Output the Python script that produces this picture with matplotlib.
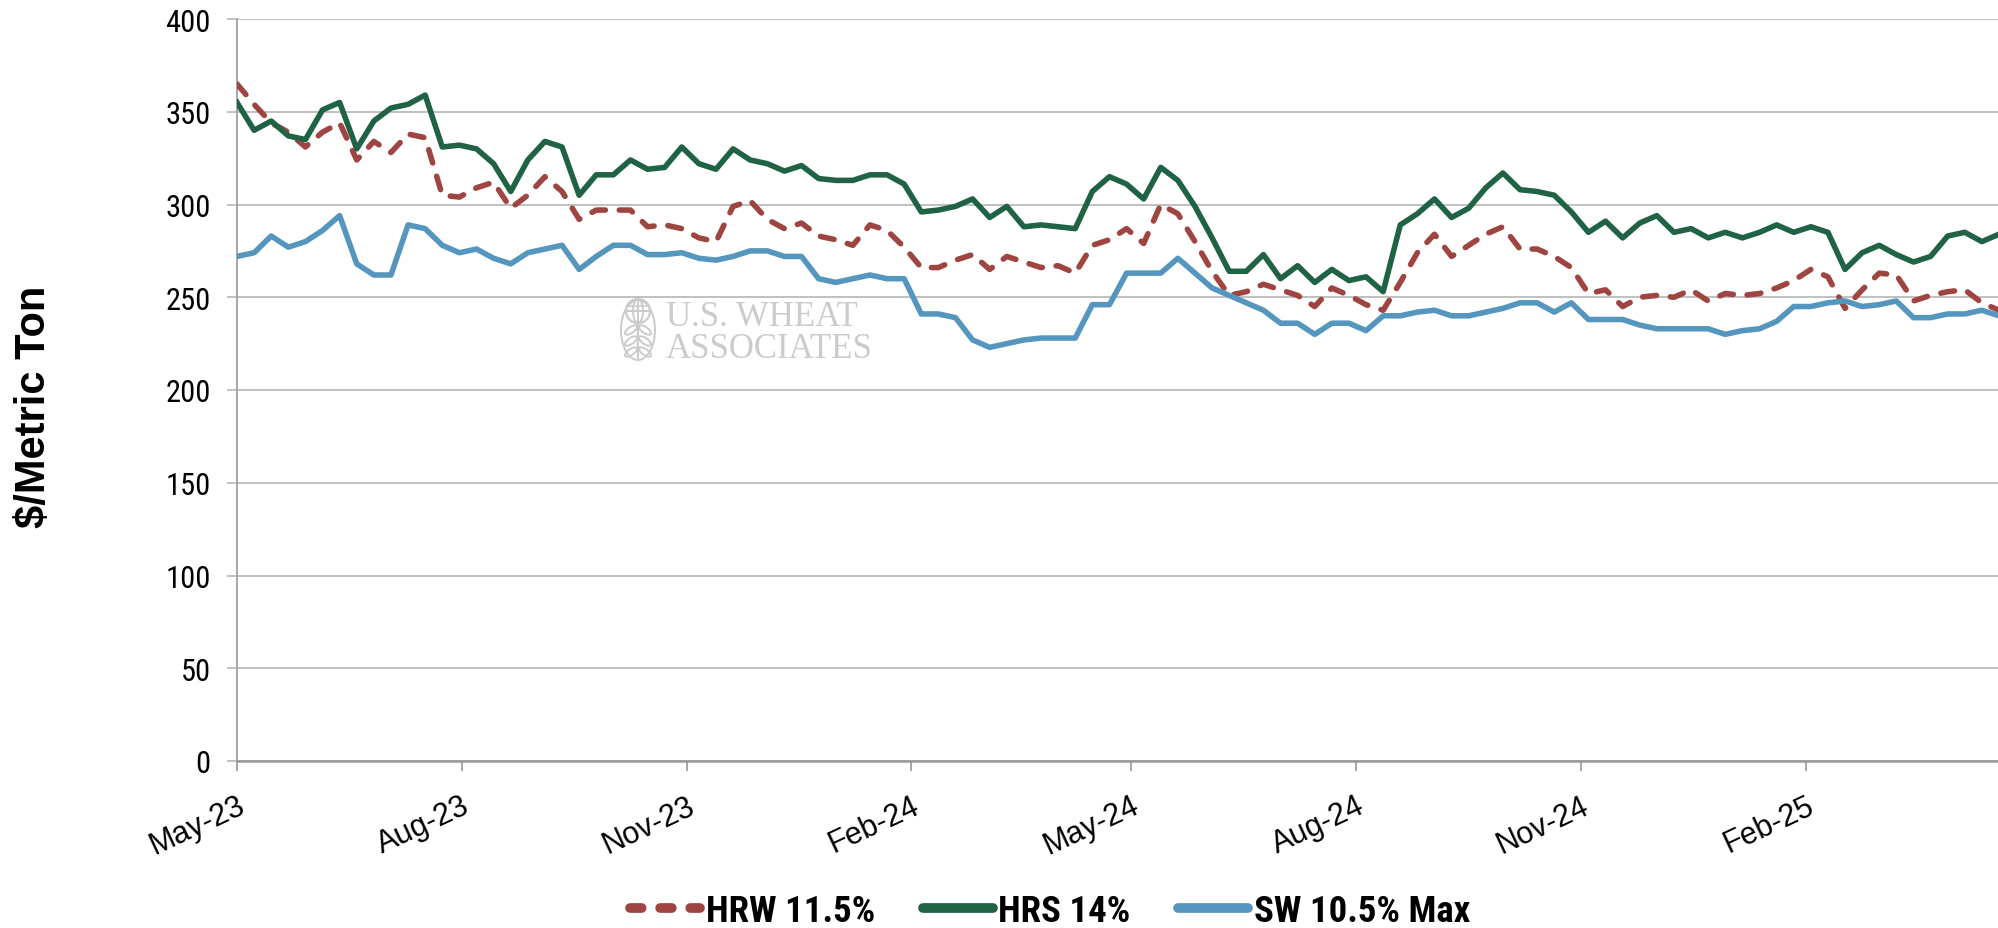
import matplotlib
matplotlib.use('Agg')
import matplotlib.pyplot as plt
import matplotlib.dates as mdates
from matplotlib import font_manager as fm
from matplotlib.font_manager import FontProperties
from matplotlib.lines import Line2D
from matplotlib.patches import Circle, Ellipse
import pandas as pd

# ---------------- data ----------------
start_date = '2023-05-01'   # weekly observations
n_weeks = 104

hrw = [365, 354, 344, 339, 331, 339, 344, 324, 334, 328, 338, 336, 305, 304, 309, 312, 298, 305, 315, 307,
       292, 297, 297, 297, 288, 289, 287,
       282, 280, 299, 302, 292, 287, 290, 283, 281, 278, 289, 286, 277, 266, 266, 270, 273, 265, 272, 269,
       266, 267, 263, 278, 281, 287,
       279, 300, 295, 280, 264, 251, 253, 257, 254, 251, 245, 255, 251, 246, 243, 258, 274, 284, 272, 278,
       284, 288, 276, 276, 272, 266,
       252, 254, 245, 250, 251, 250, 254, 248, 252, 251, 252, 255, 259, 265, 261, 244, 254, 263, 262, 248,
       251, 253, 254, 247, 243]

hrs = [355, 340, 345, 337, 335, 351, 355, 330, 345, 352, 354, 359, 331, 332, 330, 322, 307, 324, 334, 331,
       305, 316, 316, 324, 319, 320, 331,
       322, 319, 330, 324, 322, 318, 321, 314, 313, 313, 316, 316, 311, 296, 297, 299, 303, 293, 299, 288,
       289, 288, 287, 307, 315, 311,
       303, 320, 313, 299, 282, 264, 264, 273, 260, 267, 258, 265, 259, 261, 253, 289, 295, 303, 293, 298,
       309, 317, 308, 307, 305, 296,
       285, 291, 282, 290, 294, 285, 287, 282, 285, 282, 285, 289, 285, 288, 285, 265, 274, 278, 273, 269,
       272, 283, 285, 280, 284]

sw = [272, 274, 283, 277, 280, 286, 294, 268, 262, 262, 289, 287, 278, 274, 276, 271, 268, 274, 276, 278,
      265, 272, 278, 278, 273, 273, 274,
      271, 270, 272, 275, 275, 272, 272, 260, 258, 260, 262, 260, 260, 241, 241, 239, 227, 223, 225, 227,
      228, 228, 228, 246, 246, 263,
      263, 263, 271, 263, 255, 251, 247, 243, 236, 236, 230, 236, 236, 232, 240, 240, 242, 243, 240, 240,
      242, 244, 247, 247, 242, 247,
      238, 238, 238, 235, 233, 233, 233, 233, 230, 232, 233, 237, 245, 245, 247, 248, 245, 246, 248, 239,
      239, 241, 241, 243, 240]

series_labels = ['HRW 11.5%', 'HRS 14%', 'SW 10.5% Max']
y_ticks = [0, 50, 100, 150, 200, 250, 300, 350, 400]
y_label = '$/Metric Ton'
watermark = 'U.S. WHEAT\nASSOCIATES'

dates = pd.date_range(start_date, periods=n_weeks, freq='7D')

# ---------------- fonts ----------------
avail = {f.name for f in fm.fontManager.ttflist}
def pick(*names):
    for n in names:
        if n in avail:
            return n
    return 'DejaVu Sans'

NARROW = pick('Liberation Sans Narrow', 'Roboto Condensed', 'Arial Narrow', 'Liberation Sans')
SANS = pick('Liberation Sans', 'Arimo', 'Arial', 'DejaVu Sans')
SERIF = pick('Liberation Serif', 'Tinos', 'DejaVu Serif')

RED = '#9e4541'
GREEN = '#1f6244'
BLUE = '#5596be'
GRID = '#c0c0c0'
AXIS = '#a6a6a6'

W, H = 1999, 929
fig = plt.figure(figsize=(W / 100, H / 100), dpi=100)
ax = fig.add_axes([237 / W, 1 - 762 / H, 1 - 237 / W, (762 - 20) / H])

LW = 4.0
ax.plot(dates, hrw, color=RED, lw=LW, dashes=(2.5, 2.5), dash_capstyle='round',
        solid_joinstyle='round', zorder=3)
ax.plot(dates, hrs, color=GREEN, lw=LW, solid_joinstyle='round', zorder=3)
ax.plot(dates, sw, color=BLUE, lw=LW, solid_joinstyle='round', zorder=3)

ax.set_xlim(dates[0], dates[-1])
ax.set_ylim(0, 400)
ax.set_yticks(y_ticks)
ax.yaxis.grid(True, color=GRID, lw=1.4)
ax.set_axisbelow(True)

ax.xaxis.set_major_locator(mdates.MonthLocator(bymonth=[2, 5, 8, 11]))
ax.xaxis.set_major_formatter(mdates.DateFormatter('%b-%y'))

for s in ['top', 'right']:
    ax.spines[s].set_visible(False)
ax.spines['left'].set_color(AXIS)
ax.spines['left'].set_linewidth(1.4)
ax.spines['bottom'].set_color('#9a9a9a')
ax.spines['bottom'].set_linewidth(1.8)

ax.tick_params(axis='y', length=7, width=1.4, color=GRID, pad=12, labelsize=22)
ax.tick_params(axis='x', length=7, width=1.4, color=AXIS, pad=14, labelsize=22)
for lab in ax.get_yticklabels():
    lab.set_fontfamily(NARROW)
for lab in ax.get_xticklabels():
    lab.set_fontfamily(SANS)
    lab.set_rotation(25)
    lab.set_ha('right')
    lab.set_va('top')
    lab.set_rotation_mode('anchor')

fig.text(34 / W, 1 - 407 / H, y_label, rotation=90, ha='center', va='center',
         fontsize=30, fontweight='bold', family=SANS)

# legend
handles = [
    Line2D([], [], color=RED, lw=7, dashes=(1.2, 1.9), dash_capstyle='round'),
    Line2D([], [], color=GREEN, lw=7, solid_capstyle='round'),
    Line2D([], [], color=BLUE, lw=7, solid_capstyle='round'),
]
fig.legend(handles, series_labels, loc='center', bbox_to_anchor=(1050 / W, 1 - 912 / H),
           ncol=3, frameon=False,
           prop=FontProperties(family=NARROW, weight='bold', size=26.5),
           handlelength=1.9, handletextpad=0.15, columnspacing=1.3)

# watermark
WM = '#cbcbcb'
fig.text(666 / W, 1 - 358 / H, watermark, family=SERIF, size=25, color=WM,
         ha='left', va='baseline', multialignment='left', linespacing=0.95, zorder=1)
iax = fig.add_axes([620 / W, 1 - 362 / H, 36 / W, 64 / H])
iax.set_xlim(0, 36)
iax.set_ylim(0, 64)
iax.axis('off')
iax.patch.set_alpha(0)
iax.add_patch(Circle((18, 50), 12, fill=False, ec=WM, lw=1.6))
iax.add_patch(Ellipse((18, 50), 10, 24, fill=False, ec=WM, lw=1.4))
iax.plot([18, 18], [38, 62], color=WM, lw=1.4)
iax.plot([6, 30], [50, 50], color=WM, lw=1.4)
iax.plot([7.5, 28.5], [55, 55], color=WM, lw=1.2)
iax.plot([18, 18], [38, 2], color=WM, lw=1.6)
for yy in [31, 20, 9]:
    iax.add_patch(Ellipse((11, yy), 14, 6, angle=35, fill=False, ec=WM, lw=1.4))
    iax.add_patch(Ellipse((25, yy), 14, 6, angle=-35, fill=False, ec=WM, lw=1.4))
iax.add_patch(Ellipse((18, 31), 34, 60, fill=False, ec=WM, lw=1.4))

fig.savefig('out.png', dpi=100)
